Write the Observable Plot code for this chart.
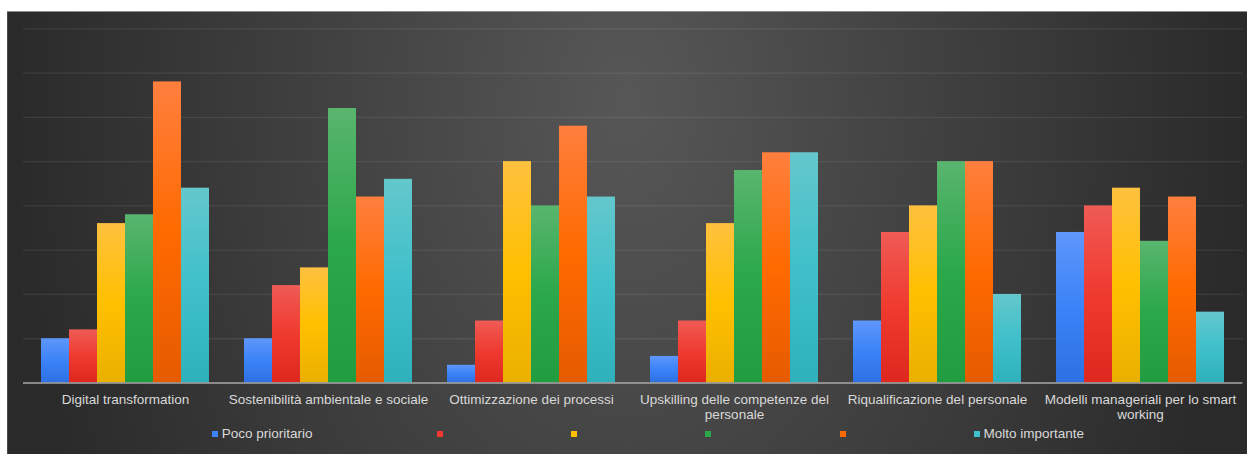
<!DOCTYPE html>
<html>
<head>
<meta charset="utf-8">
<script src="https://cdn.jsdelivr.net/npm/d3@7"></script>
<script src="https://cdn.jsdelivr.net/npm/@observablehq/plot@0.6"></script>
<style>
  body { margin: 0; background: #ffffff; }
  #chart {
    position: absolute; left: 7px; top: 11px; width: 1240px; height: 443px;
    background: radial-gradient(ellipse 50% 200% at 50% 20%, #575757 0%, #2a2a2a 100%);
    box-shadow: inset 0 1px 0 #8e8e8e, inset 1px 0 0 #4a4a4a;
    font-family: "Liberation Sans", Arial, sans-serif;
    overflow: hidden;
  }
  #chart svg { position: absolute; left: 0; top: 0; }
  #legend {
    position: absolute; left: 205px; top: 410px; height: 26px; line-height: 26px;
    display: flex; font-size: 13.5px; color: #d9d9d9; white-space: nowrap;
  }
  #legend .item { display: flex; align-items: center; margin-right: 124.5px; }
  #legend .sw { width: 6px; height: 6px; margin-right: 3.7px; }
</style>
</head>
<body>
<div id="chart"><div id="legend"></div></div>
<script>
// Topics on the horizontal axis
const categories = [
  "Digital transformation",
  "Sostenibilità ambientale e sociale",
  "Ottimizzazione dei processi",
  "Upskilling delle competenze del personale",
  "Riqualificazione del personale",
  "Modelli manageriali per lo smart working"
];
// Tick labels, with the line breaks used under the bars
const categoryLabels = [
  "Digital transformation",
  "Sostenibilità ambientale e sociale",
  "Ottimizzazione dei processi",
  "Upskilling delle competenze del\npersonale",
  "Riqualificazione del personale",
  "Modelli manageriali per lo smart\nworking"
];
// Priority levels (1 = poco prioritario ... 6 = molto importante)
const levels = ["1", "2", "3", "4", "5", "6"];
const levelLabels = ["Poco prioritario", "", "", "", "", "Molto importante"];

// Answers per topic, one value per level
const digitalTransformation = [5, 6, 18, 19, 34, 22];
const sostenibilita = [5, 11, 13, 31, 21, 23];
const ottimizzazione = [2, 7, 25, 20, 29, 21];
const upskilling = [3, 7, 18, 24, 26, 26];
const riqualificazione = [7, 17, 20, 25, 25, 10];
const modelliManageriali = [17, 20, 22, 16, 21, 8];

const yTicks = [5, 10, 15, 20, 25, 30, 35, 40];

// Level colours: light top, base, darker bottom
const levelColors = [
  ["#5f96fb", "#3b83f7", "#2d71e4"],
  ["#ef5b55", "#ef3a2f", "#de281f"],
  ["#ffc13f", "#ffc000", "#eab000"],
  ["#59b56e", "#2ba84a", "#229c40"],
  ["#ff7f3e", "#ff6a00", "#e65b00"],
  ["#64c7cc", "#3fc0ca", "#2fb1bb"]
];

const valuesByTopic = [digitalTransformation, sostenibilita, ottimizzazione, upskilling, riqualificazione, modelliManageriali];
const rows = [];
categories.forEach((c, i) => {
  levels.forEach((l, j) => rows.push({category: c, level: l, value: valuesByTopic[i][j]}));
});

const labelOf = new Map(categories.map((c, i) => [c, categoryLabels[i]]));
const gradientIds = levels.map((l, i) => `lvl-grad-${i}`);

// Shared frame for the three stacked layers
const frame = {
  width: 1240,
  height: 443,
  marginTop: 17.3,
  marginBottom: 71.5,
  marginLeft: 16,
  marginRight: 4.7,
  style: {background: "transparent", color: "#d9d9d9", fontFamily: '"Liberation Sans", Arial, sans-serif'},
  y: {domain: [0, 40], axis: null}
};

// Horizontal gridlines spanning the full plot width
const gridLayer = Plot.plot({
  ...frame,
  marks: [Plot.ruleY(yTicks, {stroke: "#ffffff", strokeOpacity: 0.08, strokeWidth: 1.3})]
});

// Grouped bars: one facet per topic, one bar per level
const barLayer = Plot.plot({
  ...frame,
  fx: {domain: categories, paddingInner: 0.163, paddingOuter: 0.0815, label: null},
  x: {domain: levels, padding: 0, axis: null},
  color: {type: "ordinal", domain: levels, range: gradientIds.map(id => `url(#${id})`)},
  marks: [
    Plot.barY(rows, {fx: "category", x: "level", y: "value", fill: "level"}),
    Plot.axisFx({
      anchor: "bottom", tickSize: 0, tickPadding: 10, fontSize: 13.5, lineHeight: 1.14,
      fill: "#d9d9d9", label: null, tickFormat: d => labelOf.get(d)
    })
  ]
});

// Baseline drawn on top of the bars
const baseLayer = Plot.plot({
  ...frame,
  marks: [Plot.ruleY([0], {stroke: "#a9a9a9", strokeWidth: 1.5})]
});

// Vertical gradients used by the bar fills
const ns = "http://www.w3.org/2000/svg";
const defs = document.createElementNS(ns, "defs");
levelColors.forEach((stops, i) => {
  const g = document.createElementNS(ns, "linearGradient");
  g.setAttribute("id", gradientIds[i]);
  g.setAttribute("x1", "0"); g.setAttribute("y1", "0");
  g.setAttribute("x2", "0"); g.setAttribute("y2", "1");
  [[0, stops[0]], [0.5, stops[1]], [1, stops[2]]].forEach(([o, c]) => {
    const s = document.createElementNS(ns, "stop");
    s.setAttribute("offset", o);
    s.setAttribute("stop-color", c);
    g.appendChild(s);
  });
  defs.appendChild(g);
});
barLayer.insertBefore(defs, barLayer.firstChild);

const host = document.getElementById("chart");
const legendNode = document.getElementById("legend");
[gridLayer, barLayer, baseLayer].forEach(svg => host.insertBefore(svg, legendNode));

// Legend below the plot
const legend = d3.select("#legend");
levels.forEach((l, i) => {
  const item = legend.append("div").attr("class", "item");
  item.append("span").attr("class", "sw").style("background", levelColors[i][1]);
  item.append("span").text(levelLabels[i]);
});
</script>
</body>
</html>
